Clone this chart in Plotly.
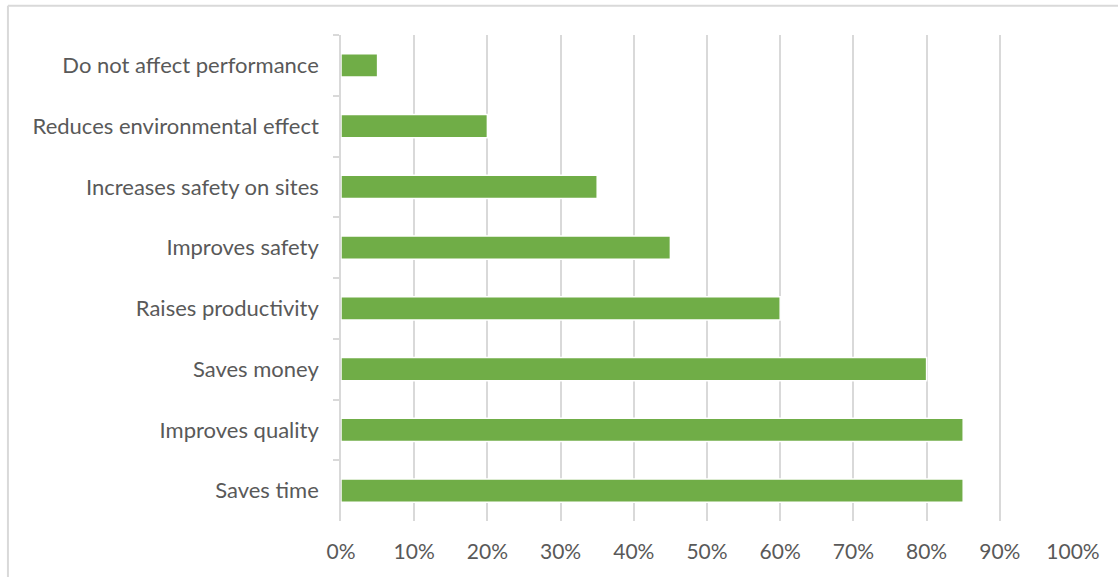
import plotly.graph_objects as go

categories = [
    "Do not affect performance",
    "Reduces environmental effect",
    "Increases safety on sites",
    "Improves safety",
    "Raises productivity",
    "Saves money",
    "Improves quality",
    "Saves time",
]
values = [0.05, 0.20, 0.35, 0.45, 0.60, 0.80, 0.85, 0.85]
x_ticks = [0, 0.1, 0.2, 0.3, 0.4, 0.5, 0.6, 0.7, 0.8, 0.9, 1.0]

FONT = "Lato"
TXT = "#595959"
GRID = "#d9d9d9"

fig = go.Figure(
    go.Bar(
        x=values,
        y=categories,
        orientation="h",
        marker=dict(color="#70AD47", line=dict(color="white", width=1.5)),
        hoverinfo="x+y",
    )
)

fig.update_layout(
    width=1118,
    height=577,
    margin=dict(l=341, r=45, t=35, b=56),
    paper_bgcolor="white",
    plot_bgcolor="white",
    bargap=0.62,
    showlegend=False,
    font=dict(family=FONT, size=20, color=TXT),
    shapes=[
        dict(type="line", xref="paper", yref="paper", x0=-0.455, x1=1.2, y0=1.06, y1=1.06,
             line=dict(color=GRID, width=2)),
        dict(type="line", xref="paper", yref="paper", x0=-0.455, x1=-0.455, y0=1.06, y1=-0.2,
             line=dict(color=GRID, width=2)),
    ],
)

fig.update_xaxes(
    range=[0, 1.0],
    tickvals=x_ticks,
    tickformat=".0%",
    showgrid=True,
    gridcolor=GRID,
    gridwidth=1.6,
    zeroline=False,
    showline=False,
    ticks="",
    ticklabelstandoff=16,
    tickfont=dict(family=FONT, size=21, color=TXT),
)

fig.update_yaxes(
    autorange="reversed",
    showline=True,
    linecolor=GRID,
    linewidth=1.6,
    ticks="outside",
    tickson="boundaries",
    ticklen=6,
    tickcolor=GRID,
    tickwidth=1.6,
    showgrid=False,
    ticklabelstandoff=16,
    tickfont=dict(family=FONT, size=22, color=TXT),
)

fig.write_html("out.html")
